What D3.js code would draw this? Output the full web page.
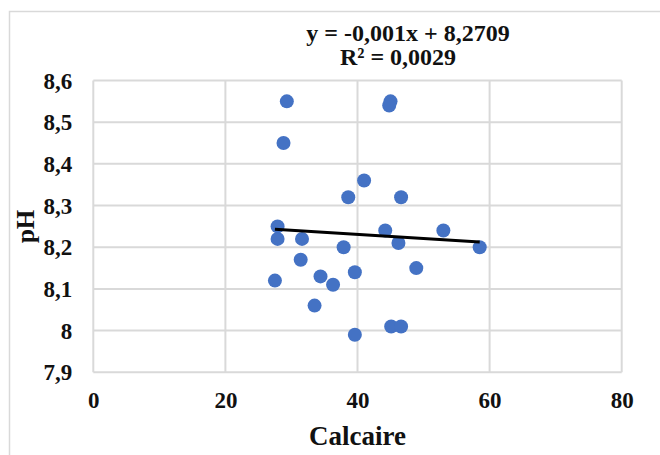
<!DOCTYPE html>
<html>
<head>
<meta charset="utf-8">
<script src="https://cdn.jsdelivr.net/npm/d3@7"></script>
<style>
  body { margin: 0; background: #fff; }
  text { font-family: "Liberation Serif", "Times New Roman", serif; font-weight: bold; fill: #111; }
</style>
</head>
<body>
<div id="chart"></div>
<script>
// Data
var calcaire = [29.3, 45.0, 44.8, 28.8, 41.0, 38.6, 46.6, 27.9, 44.2, 53.0, 27.9, 31.6,
  37.9, 46.2, 58.5, 31.4, 48.9, 27.5, 34.4, 39.6, 36.3, 33.5, 45.1, 46.6, 39.6];
var pH = [8.55, 8.55, 8.54, 8.45, 8.36, 8.32, 8.32, 8.25, 8.24, 8.24, 8.22, 8.22,
  8.20, 8.21, 8.20, 8.17, 8.15, 8.12, 8.13, 8.14, 8.11, 8.06, 8.01, 8.01, 7.99];

// Trend line (from the chart's equation)
var slope = -0.001,
  intercept = 8.2709,
  eqLabel = "y = -0,001x + 8,2709",
  r2Label = "R\u00b2 = 0,0029";

// Axes
var xTicks = [0, 20, 40, 60, 80],
  yTicks = [7.9, 8.0, 8.1, 8.2, 8.3, 8.4, 8.5, 8.6],
  xTitle = "Calcaire",
  yTitle = "pH";

// Placement
var width = 660,
  height = 455,
  pLeft = 93.3,
  pRight = 621.7,
  pTop = 80.5,
  pBottom = 372.3;

var svg = d3.select("#chart")
  .append("svg")
  .attr("width", width)
  .attr("height", height);

// chart frame
svg.append("rect")
  .attr("x", 9.5)
  .attr("y", 11.5)
  .attr("width", 700)
  .attr("height", 500)
  .attr("fill", "#fff")
  .attr("stroke", "#d9d9d9")
  .attr("stroke-width", 1.5);

var x = d3.scaleLinear().domain([0, 80]).range([pLeft, pRight]);
var y = d3.scaleLinear().domain([7.9, 8.6]).range([pBottom, pTop]);

// gridlines
svg.append("g").selectAll("line")
  .data(yTicks)
  .enter().append("line")
  .attr("x1", pLeft).attr("x2", pRight)
  .attr("y1", function(d) { return y(d); })
  .attr("y2", function(d) { return y(d); })
  .attr("stroke", "#d9d9d9")
  .attr("stroke-width", 2);

svg.append("g").selectAll("line")
  .data(xTicks)
  .enter().append("line")
  .attr("y1", pTop).attr("y2", pBottom)
  .attr("x1", function(d) { return x(d); })
  .attr("x2", function(d) { return x(d); })
  .attr("stroke", "#d9d9d9")
  .attr("stroke-width", 2);

function frNum(d) {
  return (+d.toFixed(1)).toString().replace(".", ",");
}

// axes
var yAxis = svg.append("g")
  .attr("transform", "translate(" + pLeft + ",0)")
  .call(d3.axisLeft(y).tickValues(yTicks).tickSize(0).tickPadding(21).tickFormat(frNum));
yAxis.selectAll("text").style("font-size", "23px").attr("dy", "0.33em");

var xAxis = svg.append("g")
  .attr("transform", "translate(0," + pBottom + ")")
  .call(d3.axisBottom(x).tickValues(xTicks).tickSize(0).tickPadding(19).tickFormat(frNum));
xAxis.selectAll("text").style("font-size", "23px");

svg.selectAll(".domain").remove();

// points
var pts = calcaire.map(function(d, i) { return [d, pH[i]]; });
svg.append("g").selectAll("circle")
  .data(pts)
  .enter().append("circle")
  .attr("cx", function(d) { return x(d[0]); })
  .attr("cy", function(d) { return y(d[1]); })
  .attr("r", 7)
  .attr("fill", "#4472c4");

// trend line over data range
var xMin = d3.min(calcaire), xMax = d3.max(calcaire);
svg.append("line")
  .attr("x1", x(xMin)).attr("y1", y(slope * xMin + intercept))
  .attr("x2", x(xMax)).attr("y2", y(slope * xMax + intercept))
  .attr("stroke", "#000")
  .attr("stroke-width", 3);

// equation label
svg.append("text")
  .attr("x", 408).attr("y", 41)
  .attr("text-anchor", "middle")
  .style("font-size", "24px")
  .text(eqLabel);
svg.append("text")
  .attr("x", 398).attr("y", 65)
  .attr("text-anchor", "middle")
  .style("font-size", "24px")
  .text(r2Label);

// axis titles
svg.append("text")
  .attr("x", (pLeft + pRight) / 2).attr("y", 445)
  .attr("text-anchor", "middle")
  .style("font-size", "27px")
  .text(xTitle);

svg.append("text")
  .attr("transform", "translate(34," + ((pTop + pBottom) / 2) + ")rotate(-90)")
  .attr("text-anchor", "middle")
  .style("font-size", "25px")
  .text(yTitle);
</script>
</body>
</html>
